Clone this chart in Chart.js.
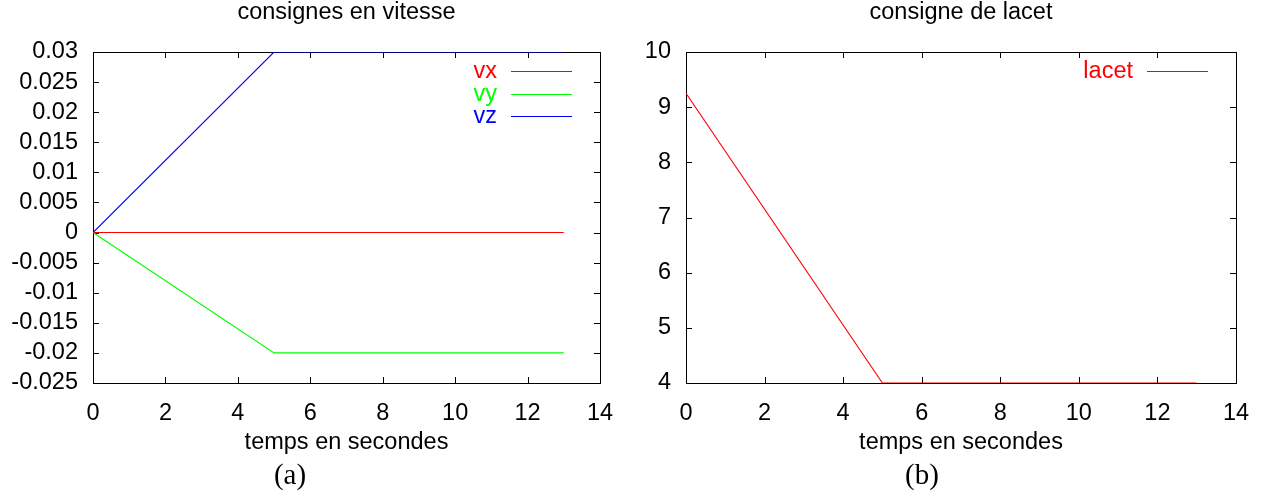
<!DOCTYPE html>
<html lang="fr">
<head>
<meta charset="UTF-8">
<title>consignes</title>
<script src="https://cdn.jsdelivr.net/npm/chart.js"></script>
<style>
    body { margin: 0; background: #fff; width: 1268px; height: 502px; overflow: hidden; position: relative; }
    .panel { position: absolute; top: 0; width: 634px; height: 460px; }
    #left { left: 0; }
    #right { left: 634px; }
    .caption { position: absolute; top: 458px; width: 100px; text-align: center;
               font-family: "Liberation Serif", "DejaVu Serif", serif; font-size: 29px; color: #000; }
</style>
</head>
<body>

<div class="panel" id="left"><canvas id="chartVitesse" width="634" height="460"></canvas></div>
<div class="panel" id="right"><canvas id="chartLacet" width="634" height="460"></canvas></div>
<div class="caption" style="left:240px">(a)</div>
<div class="caption" style="left:872px">(b)</div>

<script>
    // data
    const temps = [0, 5, 13];
    const vx = [0, 0, 0];
    const vy = [0, -0.02, -0.02];
    const vz = [0, 0.03, 0.03];
    const lacet = [9.25, 4, 4];

    const xTicks = [0, 2, 4, 6, 8, 10, 12, 14];
    const yTicksVitesse = [-0.025, -0.02, -0.015, -0.01, -0.005, 0, 0.005, 0.01, 0.015, 0.02, 0.025, 0.03];
    const yTicksLacet = [4, 5, 6, 7, 8, 9, 10];

    const FONT = '"Liberation Sans", Arial, sans-serif';
    const FS = 23.5;
    Chart.defaults.color = '#000';
    Chart.defaults.font.family = FONT;
    Chart.defaults.font.size = FS;

    function points(ys) {
        return temps.map((t, i) => ({ x: t, y: ys[i] }));
    }

    // gnuplot-like frame: border plus inward ticks on all four sides, and a legend inside
    const gnuFrame = {
        id: 'gnuFrame',
        beforeDatasetsDraw(chart) {
            const { ctx, chartArea: a, scales } = chart;
            const len = 6;
            ctx.save();
            ctx.strokeStyle = '#000';
            ctx.lineWidth = 1;
            ctx.strokeRect(a.left + 0.5, a.top + 0.5, a.right - a.left, a.bottom - a.top);
            ctx.beginPath();
            scales.x.ticks.forEach(t => {
                const px = Math.round(scales.x.getPixelForValue(t.value)) + 0.5;
                ctx.moveTo(px, a.bottom); ctx.lineTo(px, a.bottom - len);
                ctx.moveTo(px, a.top); ctx.lineTo(px, a.top + len);
            });
            scales.y.ticks.forEach(t => {
                const py = Math.round(scales.y.getPixelForValue(t.value)) + 0.5;
                ctx.moveTo(a.left, py); ctx.lineTo(a.left + len, py);
                ctx.moveTo(a.right, py); ctx.lineTo(a.right - len, py);
            });
            ctx.stroke();
            ctx.restore();
        },
        afterDatasetsDraw(chart) {
            const { ctx, chartArea: a } = chart;
            ctx.save();
            ctx.font = FS + 'px ' + FONT;
            ctx.textAlign = 'right';
            ctx.textBaseline = 'middle';
            chart.data.datasets.forEach((ds, i) => {
                const y = Math.round(a.top + 19 + i * 22.5) + 0.5;
                ctx.fillStyle = ds.borderColor;
                ctx.fillText(ds.label, a.right - 103, y);
                ctx.strokeStyle = ds.borderColor;
                ctx.lineWidth = 1;
                ctx.beginPath();
                ctx.moveTo(a.right - 89, y);
                ctx.lineTo(a.right - 28, y);
                ctx.stroke();
            });
            ctx.restore();
        }
    };

    function makeChart(id, title, datasets, yTicks, axisWidth, padRight) {
        const ctx = document.getElementById(id).getContext('2d');
        return new Chart(ctx, {
            type: 'line',
            data: { datasets: datasets },
            options: {
                responsive: false,
                animation: false,
                layout: { padding: { left: 0, right: padRight, top: 0, bottom: 0 } },
                elements: { point: { radius: 0 }, line: { borderWidth: 1.1, tension: 0 } },
                plugins: {
                    legend: { display: false },
                    tooltip: { enabled: false },
                    title: {
                        display: true,
                        text: title,
                        fullSize: false,
                        color: '#000',
                        font: { size: FS, weight: 'normal' },
                        padding: { top: -2, bottom: 54 - FS * 1.2 }
                    }
                },
                scales: {
                    x: {
                        type: 'linear',
                        min: xTicks[0],
                        max: xTicks[xTicks.length - 1],
                        afterBuildTicks: s => { s.ticks = xTicks.map(v => ({ value: v })); },
                        afterFit: s => { s.height = 77; },
                        grid: { display: false },
                        border: { display: false },
                        ticks: { padding: 8, maxRotation: 0, autoSkip: false },
                        title: {
                            display: true,
                            text: 'temps en secondes',
                            font: { size: FS },
                            padding: { top: 0, bottom: 3 }
                        }
                    },
                    y: {
                        type: 'linear',
                        min: yTicks[0],
                        max: yTicks[yTicks.length - 1],
                        afterBuildTicks: s => { s.ticks = yTicks.map(v => ({ value: v })); },
                        afterFit: s => { s.width = axisWidth; },
                        grid: { display: false },
                        border: { display: false },
                        ticks: {
                            padding: 7,
                            autoSkip: false,
                            callback: v => String(Number(v.toFixed(4)))
                        }
                    }
                }
            },
            plugins: [gnuFrame]
        });
    }

    makeChart('chartVitesse', 'consignes en vitesse', [
        { label: 'vx', data: points(vx), borderColor: '#ff0000' },
        { label: 'vy', data: points(vy), borderColor: '#00ff00' },
        { label: 'vz', data: points(vz), borderColor: '#0000ff' }
    ], yTicksVitesse, 93, 34);

    makeChart('chartLacet', 'consigne de lacet', [
        { label: 'lacet', data: points(lacet), borderColor: '#ff0000' }
    ], yTicksLacet, 52, 32);
</script>
</body>
</html>
